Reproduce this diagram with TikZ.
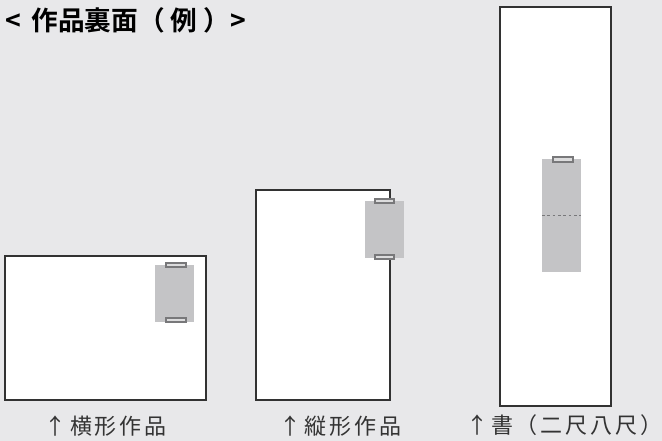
\documentclass[tikz,border=0pt]{standalone}
\usepackage{fontspec}
\newfontfamily\jpfont{Noto Sans CJK JP}[BoldFont={Noto Sans CJK JP Bold}]
\newfontfamily\jpwide{Noto Sans CJK JP}[LetterSpace=13]
\usepackage{tikz}
\usetikzlibrary{positioning, fit, calc}
\usepackage{xcolor}
\definecolor{bgray}{RGB}{232, 232, 234}
\definecolor{framegray}{RGB}{50, 50, 50}
\definecolor{backgray}{RGB}{196, 196, 198}
\definecolor{hookgray}{RGB}{120, 120, 122}

\tikzset{
  frame/.style={draw=framegray, line width=1.5pt, fill=white, inner sep=0pt},
  backing/.style={fill=backgray},
  hook/.style={draw=hookgray, fill=backgray!60, line width=0.8pt},
  caption/.style={font=\jpwide\fontsize{16.5}{18}\selectfont, text=black!80, inner sep=0pt}
}

\begin{document}
\begin{tikzpicture}[x=0.75pt, y=-0.75pt]
  % Background
  \fill[bgray] (0,0) rectangle (662,441);
  \useasboundingbox (0,0) rectangle (662,441);

  % Title
  \node[font=\jpfont\bfseries\fontsize{20}{22}\selectfont, anchor=west, inner sep=0pt] (title) at (5,20)
    {<\ \,作品裏面（\ 例\ ）>};

  % Landscape work
  \node[frame, fit={(5,256) (206,400)}] (yoko) {};
  \fill[backing] (155,265) rectangle (194,322);
  \filldraw[hook] (166,263) rectangle (186,267);
  \filldraw[hook] (166,318) rectangle (186,322);
  \node[caption, below=11pt of yoko.south] (yokolabel) {↑\,横形作品};

  % Portrait work
  \node[frame, fit={(256,190) (390,400)}] (tate) {};
  \fill[backing] (365,201) rectangle (404,258);
  \filldraw[hook] (375,199) rectangle (394,203);
  \filldraw[hook] (375,255) rectangle (394,259);
  \node[caption, below=11pt of tate.south, xshift=13pt] (tatelabel) {↑\,縦形作品};

  % Calligraphy scroll
  \node[frame, fit={(500,7) (611,406)}] (sho) {};
  \fill[backing] (542,159) rectangle (581,272);
  \filldraw[hook] (553,157) rectangle (573,162);
  \draw[hookgray, dashed, line width=0.6pt, dash pattern=on 2pt off 2pt] (542,215) -- (581,215);
  \node[caption, anchor=west] (sholabel) at (466,425) {↑書（二尺八尺）};
\end{tikzpicture}
\end{document}
